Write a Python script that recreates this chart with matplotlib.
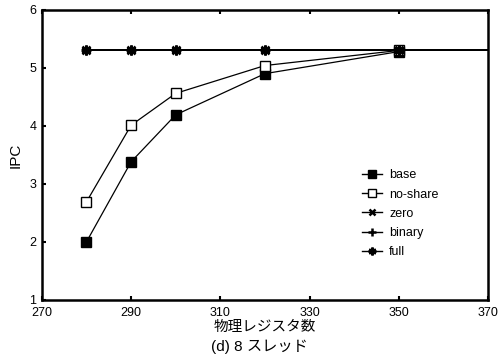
import matplotlib
matplotlib.use("Agg")
import matplotlib.pyplot as plt

plt.rcParams['font.family'] = ['Liberation Sans', 'Noto Sans CJK JP', 'DejaVu Sans']

regs = [280, 290, 300, 320, 350]
regs_ext = [280, 290, 300, 320, 350, 370]
base = [2.0, 3.38, 4.19, 4.9, 5.28]
noshare = [2.69, 4.01, 4.56, 5.04, 5.3]
zero = [5.3, 5.3, 5.3, 5.3, 5.3, 5.3]
binary = [5.3, 5.3, 5.3, 5.3, 5.3, 5.3]
full = [5.3, 5.3, 5.3, 5.3, 5.3, 5.3]

xticks = [270, 290, 310, 330, 350, 370]
yticks = [1, 2, 3, 4, 5, 6]

fig = plt.figure(figsize=(4.98, 3.64), dpi=100)
ax = fig.add_axes([0.084, 0.176, 0.896, 0.797])

ax.plot(regs, base, color='black', lw=0.9, marker='s', ms=6.5,
        mfc='black', mec='black', label='base')
ax.plot(regs, noshare, color='black', lw=0.9, marker='s', ms=6.5,
        mfc='white', mec='black', label='no-share')
me = [0, 1, 2, 3, 4]
ax.plot(regs_ext, zero, color='black', lw=1.4, marker='x', ms=6, mew=1.8,
        markevery=me, label='zero')
ax.plot(regs_ext, binary, color='black', lw=1.4, marker='+', ms=7, mew=1.8,
        markevery=me, label='binary')
ax.plot(regs_ext, full, color='black', lw=1.4, marker=(6, 2, 0), ms=7, mew=1.8,
        markevery=me, label='full')

ax.set_xlim(270, 370)
ax.set_ylim(1, 6)
ax.set_xticks(xticks)
ax.set_yticks(yticks)
ax.tick_params(direction='in', length=3, width=1.5, labelsize=9,
               top=True, right=False)
ax.tick_params(axis='x', pad=5)
ax.tick_params(axis='y', pad=4)
for s in ax.spines.values():
    s.set_linewidth(1.8)

ax.set_ylabel('IPC', fontsize=11, labelpad=5)
ax.set_xlabel('物理レジスタ数', fontsize=10.5, labelpad=1)
fig.text(0.52, 0.048, '(d) 8 スレッド', ha='center', va='center', fontsize=11)

leg = ax.legend(loc='center left', bbox_to_anchor=(0.717, 0.297), frameon=False,
                fontsize=9, handlelength=1.6, handletextpad=0.6,
                labelspacing=0.58, markerscale=0.8, borderaxespad=0,
                borderpad=0)
for h in leg.legend_handles:
    h.set_linewidth(1.0)

fig.savefig('out.png', dpi=100)
